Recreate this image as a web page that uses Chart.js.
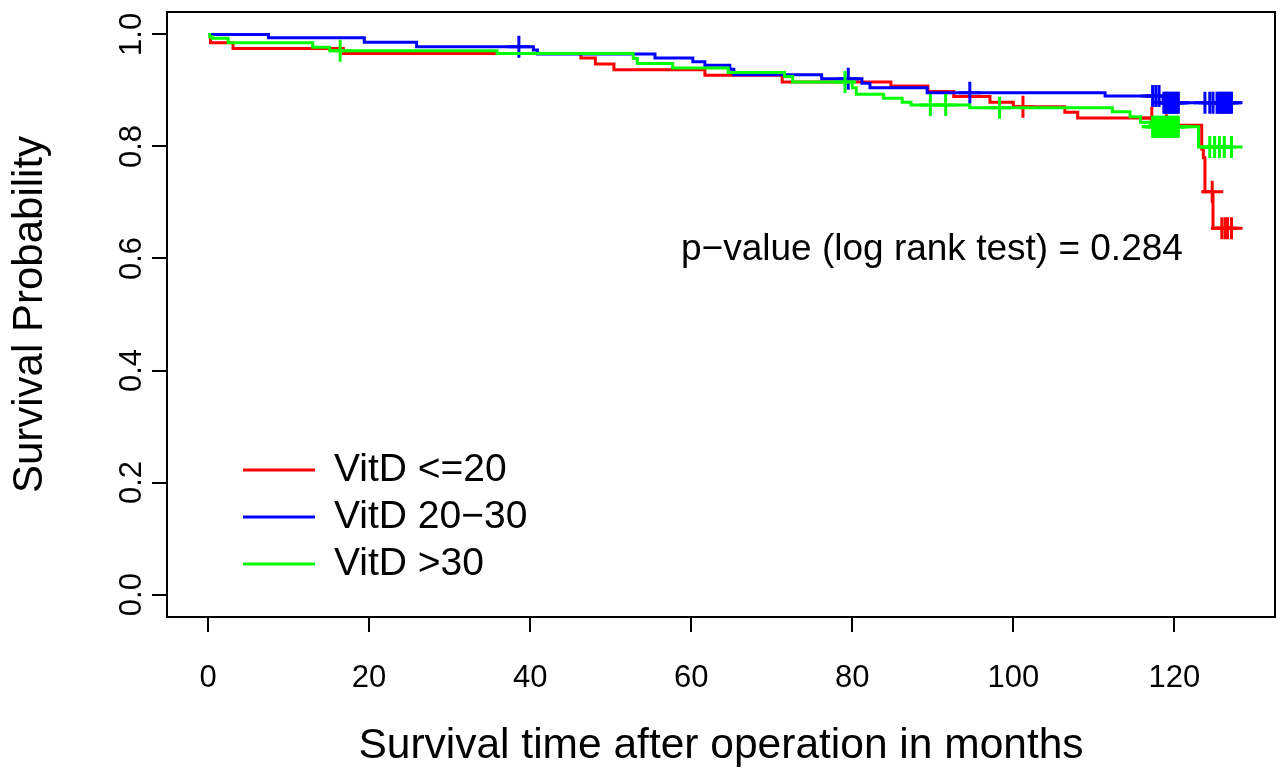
<!DOCTYPE html>
<html><head><meta charset="utf-8">
<style>html,body{margin:0;padding:0;background:#fff;overflow:hidden}#wrap{width:1280px;height:770px}</style>
<script src="https://cdn.jsdelivr.net/npm/chart.js@4.4.1/dist/chart.umd.min.js"></script>
</head><body><div id="wrap"><canvas id="c" width="1280" height="770"></canvas></div>
<script>
// ---- data ----
const seriesNames = ['VitD <=20', 'VitD 20\u221230', 'VitD >30'];
const seriesColors = ['#FF0000', '#0000FF', '#00FF00'];

const redTimes = [0, 0.3, 3.1, 16.8, 46.3, 48.1, 50.4, 61.7, 71.3, 84.8, 89.4, 92.6, 97.1, 100.0, 106.4, 108.0, 118.3, 123.4, 123.6, 123.8, 124.8, 127.1];
const redSurv  = [1.0, 0.985, 0.975, 0.966, 0.958, 0.947, 0.937, 0.927, 0.915, 0.908, 0.898, 0.889, 0.879, 0.871, 0.861, 0.851, 0.838, 0.795, 0.780, 0.719, 0.654, 0.654];
const redCensor = [101.2, 117.2, 119.0, 124.7, 125.9, 126.3, 126.6, 127.1];

const blueTimes = [0, 7.5, 19.4, 25.9, 40.4, 40.9, 55.5, 60.2, 61.7, 64.8, 65.3, 76.2, 81.2, 82.2, 89.3, 111.4, 118.6, 127.1];
const blueSurv  = [1.0, 0.994, 0.986, 0.978, 0.972, 0.965, 0.958, 0.951, 0.945, 0.938, 0.928, 0.921, 0.913, 0.905, 0.896, 0.890, 0.878, 0.878];
const blueCensor = [38.6, 79.5, 94.6, 117.3, 117.7, 118.1, 118.7, 118.9, 119.1, 119.3, 119.5, 119.7, 119.9, 120.1, 120.3, 120.5,
  123.8, 124.4, 124.8, 125.3, 125.5, 125.7, 125.9, 126.1, 126.3, 126.5, 126.7, 126.9, 127.1];

const greenTimes = [0, 0.2, 0.5, 2.5, 13.0, 15.1, 35.9, 52.8, 53.3, 57.7, 64.6, 71.6, 72.6, 80.0, 80.5, 83.9, 86.2, 87.3, 94.6, 112.3, 114.5, 115.8, 117.0, 123.0, 127.1];
const greenSurv  = [1.0, 0.996, 0.993, 0.985, 0.977, 0.971, 0.966, 0.957, 0.948, 0.940, 0.932, 0.925, 0.915, 0.905, 0.893, 0.886, 0.879, 0.874, 0.869, 0.862, 0.853, 0.843, 0.835, 0.799, 0.799];
const greenCensor = [16.4, 79.1, 89.7, 91.6, 98.3, 117.3, 117.5, 117.7, 117.9, 118.1, 118.3, 118.5, 118.7, 118.9, 119.1, 119.3, 119.5, 119.7, 119.9, 120.1, 120.3, 120.5,
  124.4, 125.0, 125.6, 126.2, 127.1];

const xTicks = [0, 20, 40, 60, 80, 100, 120];
const yTicks = [0.0, 0.2, 0.4, 0.6, 0.8, 1.0];
const pText = 'p\u2212value (log rank test) = 0.284';
const xTitle = 'Survival time after operation in months';
const yTitle = 'Survival Probability';

// ---- helpers ----
const FONT = "'Liberation Sans', Arial, Helvetica, sans-serif";
function stepPoints(times, surv) { return times.map((t, i) => ({x: t, y: surv[i]})); }
function survAt(times, surv, t) { let s = surv[0]; for (let i = 0; i < times.length; i++) { if (times[i] <= t) s = surv[i]; } return s; }
function censorPoints(ct, times, surv) { return ct.map(t => ({x: t, y: survAt(times, surv, t)})); }

const groups = [
  {times: redTimes, surv: redSurv, cens: redCensor},
  {times: blueTimes, surv: blueSurv, cens: blueCensor},
  {times: greenTimes, surv: greenSurv, cens: greenCensor}
];
const datasets = [];
groups.forEach((g, i) => {
  datasets.push({label: seriesNames[i], data: stepPoints(g.times, g.surv), borderColor: seriesColors[i], backgroundColor: seriesColors[i],
    borderWidth: 3, stepped: 'before', pointRadius: 0, fill: false, order: 5 - 2 * i, tension: 0});
  datasets.push({label: seriesNames[i] + ' censored', data: censorPoints(g.cens, g.times, g.surv), borderColor: seriesColors[i], backgroundColor: seriesColors[i],
    showLine: false, pointStyle: 'cross', pointRadius: 11, pointBorderWidth: 3, order: 4 - 2 * i});
});

const decor = {
  id: 'decor',
  afterDraw(chart) {
    const ctx = chart.ctx, a = chart.chartArea, ys = chart.scales.y;
    ctx.save();
    // box
    ctx.strokeStyle = '#000'; ctx.lineWidth = 2;
    ctx.strokeRect(a.left, a.top, a.right - a.left, a.bottom - a.top);
    // rotated y tick labels
    ctx.fillStyle = '#000'; ctx.font = '31px ' + FONT; ctx.textAlign = 'center'; ctx.textBaseline = 'alphabetic';
    yTicks.forEach(v => {
      const py = ys.getPixelForValue(v);
      ctx.save(); ctx.translate(141, py); ctx.rotate(-Math.PI / 2);
      ctx.fillText(v.toFixed(1), 0, 0); ctx.restore();
    });
    // p-value text
    ctx.font = '37px ' + FONT; ctx.textAlign = 'left'; ctx.textBaseline = 'middle';
    ctx.fillText(pText, 681, 250);
    // legend
    const ly = [470, 517, 564];
    ctx.font = '39px ' + FONT;
    seriesNames.forEach((n, i) => {
      ctx.strokeStyle = seriesColors[i]; ctx.lineWidth = 3;
      ctx.beginPath(); ctx.moveTo(243, ly[i]); ctx.lineTo(315, ly[i]); ctx.stroke();
      ctx.fillStyle = '#000'; ctx.fillText(n, 334, ly[i]);
    });
    ctx.restore();
  }
};

new Chart(document.getElementById('c'), {
  type: 'line',
  data: {datasets},
  options: {
    responsive: false, animation: false, devicePixelRatio: 1,
    layout: {autoPadding: false, padding: {left: 0, right: 5, top: 12, bottom: 0}},
    plugins: {legend: {display: false}, tooltip: {enabled: false}},
    scales: {
      x: {type: 'linear', min: -5.1, max: 132.5,
        afterBuildTicks: s => { s.ticks = xTicks.map(v => ({value: v})); },
        afterFit: s => { s.height = 153; },
        grid: {drawOnChartArea: false, drawTicks: true, tickLength: 15, color: '#000', lineWidth: 2},
        border: {display: false},
        ticks: {font: {family: FONT, size: 31}, color: '#000', padding: 28, maxRotation: 0, autoSkip: false},
        title: {display: true, text: xTitle, color: '#000', font: {family: FONT, size: 42.5, lineHeight: 1}, padding: {top: 0, bottom: 2}}
      },
      y: {type: 'linear', min: -0.04, max: 1.04,
        afterBuildTicks: s => { s.ticks = yTicks.map(v => ({value: v})); },
        afterFit: s => { s.width = 167; },
        grid: {drawOnChartArea: false, drawTicks: true, tickLength: 15, color: '#000', lineWidth: 2},
        border: {display: false},
        ticks: {display: false},
        title: {display: true, text: yTitle, color: '#000', font: {family: FONT, size: 42, lineHeight: 1}, padding: {top: 9, bottom: 0}}
      }
    }
  },
  plugins: [decor]
});
</script></body></html>
